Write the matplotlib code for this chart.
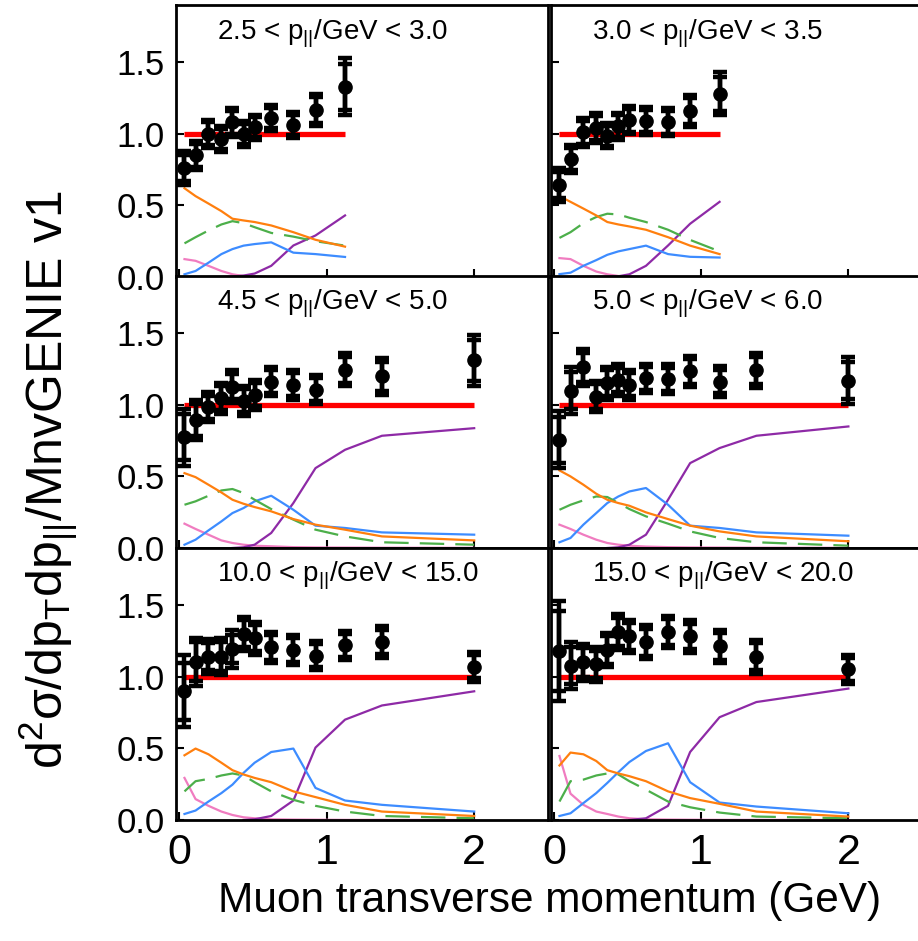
import numpy as np
import matplotlib
matplotlib.use('Agg')
import matplotlib.pyplot as plt
from matplotlib import font_manager

nan = np.nan

# muon pT bin centres (GeV)
pt = [0.0375, 0.1125, 0.2, 0.2875, 0.3625, 0.4375, 0.5125, 0.625, 0.775, 0.925, 1.125, 1.375, 2.0]

panel_titles = ['2.5 < $\\mathregular{p_{||}}$/GeV < 3.0', '3.0 < $\\mathregular{p_{||}}$/GeV < 3.5',
                '4.5 < $\\mathregular{p_{||}}$/GeV < 5.0', '5.0 < $\\mathregular{p_{||}}$/GeV < 6.0',
                '10.0 < $\\mathregular{p_{||}}$/GeV < 15.0', '15.0 < $\\mathregular{p_{||}}$/GeV < 20.0']

# data / MnvGENIE v1 ratio, one list per panel
ratio = [
    [0.76, 0.85, 1.00, 0.965, 1.08, 1.00, 1.045, 1.11, 1.06, 1.165, 1.33],
    [0.642, 0.824, 1.01, 1.04, 0.988, 1.054, 1.096, 1.09, 1.082, 1.16, 1.28],
    [0.774, 0.895, 0.984, 1.047, 1.128, 1.03, 1.07, 1.163, 1.14, 1.105, 1.244, 1.2, 1.31],
    [0.756, 1.1, 1.263, 1.058, 1.151, 1.174, 1.14, 1.186, 1.18, 1.233, 1.163, 1.24, 1.17],
    [0.9, 1.106, 1.141, 1.141, 1.195, 1.3, 1.27, 1.205, 1.188, 1.148, 1.219, 1.242, 1.07],
    [1.181, 1.078, 1.101, 1.087, 1.188, 1.313, 1.282, 1.242, 1.313, 1.282, 1.212, 1.141, 1.054],
]
# total uncertainty
err_tot = [
    [0.12, 0.10, 0.10, 0.09, 0.10, 0.09, 0.09, 0.09, 0.09, 0.11, 0.20],
    [0.12, 0.10, 0.10, 0.105, 0.09, 0.095, 0.10, 0.10, 0.10, 0.11, 0.15],
    [0.2, 0.14, 0.105, 0.108, 0.115, 0.105, 0.105, 0.103, 0.105, 0.102, 0.115, 0.13, 0.175],
    [0.2, 0.163, 0.13, 0.108, 0.115, 0.11, 0.105, 0.10, 0.102, 0.107, 0.105, 0.12, 0.163],
    [0.25, 0.168, 0.12, 0.13, 0.13, 0.118, 0.115, 0.11, 0.106, 0.10, 0.10, 0.11, 0.104],
    [0.35, 0.165, 0.13, 0.12, 0.12, 0.124, 0.118, 0.118, 0.114, 0.115, 0.118, 0.118, 0.102],
]
# statistical uncertainty (inner caps)
err_stat = [
    [0.09, 0.08, 0.08, 0.07, 0.08, 0.07, 0.07, 0.07, 0.07, 0.09, 0.16],
    [0.09, 0.08, 0.08, 0.085, 0.07, 0.075, 0.08, 0.08, 0.08, 0.09, 0.12],
    [0.16, 0.11, 0.08, 0.085, 0.09, 0.08, 0.08, 0.08, 0.08, 0.08, 0.09, 0.10, 0.14],
    [0.16, 0.13, 0.10, 0.085, 0.09, 0.085, 0.08, 0.08, 0.08, 0.085, 0.08, 0.095, 0.13],
    [0.2, 0.135, 0.095, 0.10, 0.10, 0.095, 0.09, 0.085, 0.085, 0.08, 0.08, 0.085, 0.08],
    [0.28, 0.13, 0.10, 0.095, 0.095, 0.10, 0.095, 0.095, 0.09, 0.09, 0.095, 0.095, 0.08],
]

# model component fractions
orange_comp = [
    [0.62, 0.565, 0.513, 0.46, 0.407, 0.395, 0.384, 0.36, 0.313, 0.26, 0.212],
    [0.565, 0.525, 0.478, 0.43, 0.384, 0.367, 0.353, 0.33, 0.278, 0.219, 0.16],
    [0.523, 0.495, 0.442, 0.388, 0.337, 0.309, 0.286, 0.256, 0.202, 0.163, 0.128, 0.081, 0.053],
    [0.542, 0.5, 0.442, 0.379, 0.337, 0.314, 0.295, 0.249, 0.202, 0.156, 0.116, 0.081, 0.047],
    [0.452, 0.499, 0.459, 0.4, 0.348, 0.318, 0.294, 0.264, 0.2, 0.16, 0.106, 0.059, 0.028],
    [0.381, 0.471, 0.459, 0.412, 0.348, 0.325, 0.306, 0.271, 0.2, 0.153, 0.113, 0.059, 0.024],
]
green_comp = [
    [0.235, 0.278, 0.325, 0.367, 0.39, 0.376, 0.348, 0.308, 0.282, 0.25, 0.219],
    [0.273, 0.313, 0.376, 0.419, 0.442, 0.437, 0.414, 0.384, 0.33, 0.259, 0.179],
    [0.302, 0.326, 0.365, 0.402, 0.412, 0.384, 0.337, 0.272, 0.198, 0.128, 0.081, 0.04, 0.023],
    [0.267, 0.302, 0.333, 0.36, 0.356, 0.314, 0.272, 0.221, 0.17, 0.116, 0.07, 0.04, 0.016],
    [0.2, 0.271, 0.287, 0.311, 0.325, 0.311, 0.264, 0.2, 0.141, 0.099, 0.059, 0.028, 0.012],
    [0.129, 0.271, 0.282, 0.311, 0.325, 0.318, 0.271, 0.212, 0.129, 0.089, 0.052, 0.024, 0.012],
]
blue_comp = [
    [0.019, 0.042, 0.10, 0.16, 0.195, 0.219, 0.23, 0.242, 0.17, 0.16, 0.14],
    [0.02, 0.03, 0.078, 0.118, 0.155, 0.179, 0.195, 0.219, 0.16, 0.141, 0.136],
    [0.023, 0.058, 0.123, 0.186, 0.244, 0.279, 0.326, 0.365, 0.267, 0.156, 0.14, 0.109, 0.093],
    [0.04, 0.07, 0.163, 0.244, 0.314, 0.36, 0.395, 0.419, 0.302, 0.156, 0.14, 0.109, 0.086],
    [0.042, 0.066, 0.129, 0.188, 0.247, 0.329, 0.4, 0.475, 0.499, 0.224, 0.136, 0.106, 0.059],
    [0.028, 0.047, 0.118, 0.188, 0.259, 0.334, 0.405, 0.482, 0.536, 0.264, 0.122, 0.094, 0.047],
]
pink_comp = [
    [0.125, 0.113, 0.078, 0.042, 0.019, 0.007, 0.003, 0.001, 0.0, 0.0, 0.0],
    [0.132, 0.125, 0.078, 0.038, 0.019, 0.007, 0.003, 0.001, 0.0, 0.0, 0.0],
    [0.17, 0.133, 0.093, 0.053, 0.035, 0.023, 0.016, 0.012, 0.006, 0.004, 0.003, 0.002, 0.001],
    [0.163, 0.133, 0.093, 0.058, 0.035, 0.023, 0.016, 0.01, 0.006, 0.004, 0.003, 0.002, 0.001],
    [0.294, 0.146, 0.099, 0.059, 0.035, 0.019, 0.012, 0.005, 0.003, 0.002, 0.001, 0.001, 0.0],
    [0.447, 0.184, 0.106, 0.059, 0.042, 0.024, 0.012, 0.005, 0.003, 0.002, 0.001, 0.001, 0.0],
]
purple_comp = [
    [nan, nan, 0.0, 0.0, 0.003, 0.01, 0.024, 0.078, 0.22, 0.29, 0.43],
    [nan, nan, 0.0, 0.0, 0.002, 0.005, 0.019, 0.078, 0.22, 0.372, 0.525],
    [nan, nan, nan, nan, 0.0, 0.005, 0.023, 0.105, 0.314, 0.558, 0.686, 0.784, 0.837],
    [nan, nan, nan, nan, 0.0, 0.005, 0.023, 0.093, 0.337, 0.593, 0.698, 0.784, 0.849],
    [nan, nan, nan, nan, nan, 0.0, 0.005, 0.028, 0.136, 0.506, 0.701, 0.8, 0.899],
    [nan, nan, nan, nan, nan, nan, 0.0, 0.012, 0.099, 0.475, 0.718, 0.824, 0.918],
]

names = [f.name for f in font_manager.fontManager.ttflist]
base_font = 'Liberation Sans' if 'Liberation Sans' in names else 'DejaVu Sans'

plt.rcParams['font.family'] = [base_font, 'DejaVu Sans']
plt.rcParams['mathtext.fontset'] = 'custom'
plt.rcParams['mathtext.rm'] = base_font
plt.rcParams['mathtext.it'] = base_font + ':italic'

fig = plt.figure(figsize=(9.18, 9.41), dpi=100)
W, H = 918.0, 941.0
col_left = [176, 551]
col_width = [372, 371]
row_top = [5, 276, 548]
row_height = 272

for i in range(6):
    r, c = divmod(i, 2)
    ax = fig.add_axes([col_left[c] / W, 1 - (row_top[r] + row_height) / H,
                       col_width[c] / W, row_height / H])
    n = len(ratio[i])
    x = pt[:n]

    ax.plot(x, pink_comp[i], color='#f07cc0', lw=1.6)
    ax.plot(x, purple_comp[i], color='#8e2aa6', lw=1.6)
    ax.plot(x, blue_comp[i], color='#3d8cff', lw=1.6)
    ax.plot(x, green_comp[i], color='#4caf4a', lw=1.6, dashes=(11, 5))
    ax.plot(x, orange_comp[i], color='#ff7f0e', lw=1.6)
    ax.plot([x[0], x[-1]], [1.0, 1.0], color='#ff0000', lw=3.8, solid_capstyle='butt')

    ax.errorbar(x, ratio[i], yerr=err_tot[i], fmt='none', ecolor='black',
                elinewidth=3.2, capsize=5, capthick=3.2)
    ax.errorbar(x, ratio[i], yerr=err_stat[i], fmt='o', color='black',
                ms=9.5, elinewidth=3.2, capsize=5, capthick=3.2)

    ax.set_xlim(-0.02, 2.5)
    ax.set_ylim(0, 1.9)
    ax.set_xticks([0, 1, 2])
    ax.set_yticks([0, 0.5, 1.0, 1.5])
    ax.tick_params(direction='in', length=6, width=1.5, top=False, right=False)
    ax.tick_params(axis='y', labelsize=25, pad=8)
    ax.tick_params(axis='x', labelsize=31, pad=9)
    if c == 1:
        ax.set_yticklabels([])
    else:
        ax.set_yticklabels(['0.0', '0.5', '1.0', '1.5'])
    if r < 2:
        ax.set_xticklabels([])
    for sp in ax.spines.values():
        sp.set_linewidth(2.0)

    ax.text(41.0 / col_width[c], 0.875, panel_titles[i], transform=ax.transAxes,
            fontsize=20, ha='left', va='baseline')

fig.text(0.053, 0.49, '$\\mathregular{d^{2}\\sigma/dp_{T}dp_{||}/MnvGENIE\\ v1}$',
         rotation=90, ha='center', va='center', fontsize=36)
fig.text(0.599, 0.043, 'Muon transverse momentum (GeV)', ha='center', va='center',
         fontsize=30.5)

fig.savefig('out.png', dpi=100)
